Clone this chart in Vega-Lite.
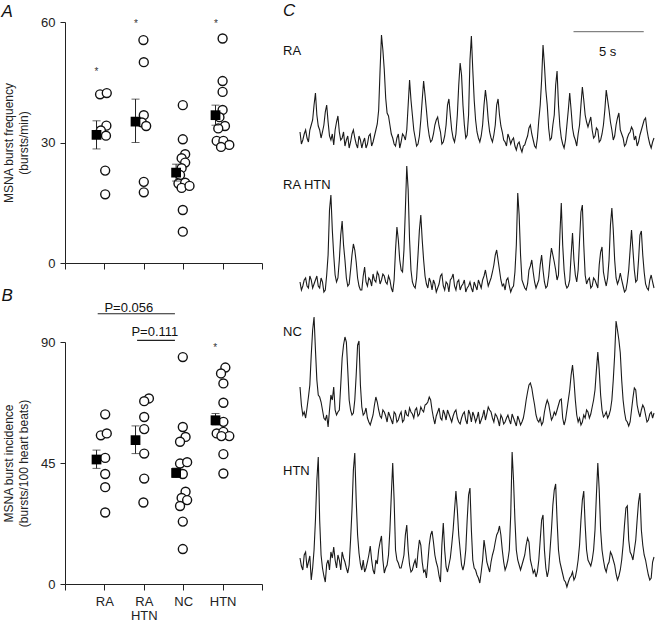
{
  "$schema": "https://vega.github.io/schema/vega-lite/v6.json",
  "padding": {"left": 1, "top": 1, "right": 0, "bottom": 0},
  "background": "white",
  "config": {
    "view": {"stroke": null},
    "font": "Liberation Sans",
    "axis": {"grid": false, "domainColor": "#222", "tickColor": "#222", "labelColor": "#222", "titleColor": "#222", "labelFont": "Liberation Sans", "titleFont": "Liberation Sans", "labelFontSize": 13, "titleFontSize": 12, "titleFontWeight": "normal", "tickSize": 5, "labelPadding": 4, "domainWidth": 1, "tickWidth": 1}
  },
  "datasets": {
    "indA": [
      {"group": "RA", "pos": 0.89, "v": 42.0}, {"group": "RA", "pos": 1.06, "v": 42.3}, {"group": "RA", "pos": 1.05, "v": 34.2}, {"group": "RA", "pos": 0.91, "v": 33.0}, {"group": "RA", "pos": 1.04, "v": 31.7}, {"group": "RA", "pos": 1.02, "v": 23.0}, {"group": "RA", "pos": 1.02, "v": 17.1},
      {"group": "RA HTN", "pos": 1.99, "v": 55.5}, {"group": "RA HTN", "pos": 2.0, "v": 50.0}, {"group": "RA HTN", "pos": 2.0, "v": 36.8}, {"group": "RA HTN", "pos": 1.95, "v": 35.0}, {"group": "RA HTN", "pos": 2.06, "v": 34.1}, {"group": "RA HTN", "pos": 2.0, "v": 20.2}, {"group": "RA HTN", "pos": 2.0, "v": 17.6},
      {"group": "NC", "pos": 2.99, "v": 39.3}, {"group": "NC", "pos": 2.99, "v": 30.8}, {"group": "NC", "pos": 3.05, "v": 27.1}, {"group": "NC", "pos": 2.96, "v": 26.1}, {"group": "NC", "pos": 3.05, "v": 25.0}, {"group": "NC", "pos": 2.96, "v": 23.6}, {"group": "NC", "pos": 2.92, "v": 21.9}, {"group": "NC", "pos": 2.88, "v": 19.8}, {"group": "NC", "pos": 3.05, "v": 20.0}, {"group": "NC", "pos": 2.96, "v": 18.7}, {"group": "NC", "pos": 3.16, "v": 19.2}, {"group": "NC", "pos": 2.99, "v": 13.2}, {"group": "NC", "pos": 2.99, "v": 7.8},
      {"group": "HTN", "pos": 4.0, "v": 55.9}, {"group": "HTN", "pos": 4.0, "v": 45.3}, {"group": "HTN", "pos": 4.0, "v": 42.6}, {"group": "HTN", "pos": 4.0, "v": 38.1}, {"group": "HTN", "pos": 3.92, "v": 36.3}, {"group": "HTN", "pos": 4.06, "v": 34.1}, {"group": "HTN", "pos": 3.89, "v": 33.5}, {"group": "HTN", "pos": 3.85, "v": 30.4}, {"group": "HTN", "pos": 4.02, "v": 30.4}, {"group": "HTN", "pos": 4.17, "v": 29.4}, {"group": "HTN", "pos": 3.96, "v": 28.9}
    ],
    "meanA": [
      {"group": "RA", "pos": 0.8, "mean": 31.9, "lo": 28.4, "hi": 35.4},
      {"group": "RA HTN", "pos": 1.79, "mean": 35.2, "lo": 30.0, "hi": 40.8},
      {"group": "NC", "pos": 2.82, "mean": 22.5, "lo": 20.4, "hi": 24.6},
      {"group": "HTN", "pos": 3.82, "mean": 36.8, "lo": 34.3, "hi": 39.3}
    ],
    "starA": [
      {"group": "RA", "pos": 0.8, "v": 48.0},
      {"group": "RA HTN", "pos": 1.8, "v": 60.0},
      {"group": "HTN", "pos": 3.83, "v": 60.0}
    ],
    "indB": [
      {"group": "RA", "pos": 1.02, "v": 63.1}, {"group": "RA", "pos": 0.91, "v": 55.3}, {"group": "RA", "pos": 1.06, "v": 56.0}, {"group": "RA", "pos": 1.02, "v": 46.9}, {"group": "RA", "pos": 1.02, "v": 40.9}, {"group": "RA", "pos": 1.02, "v": 36.0}, {"group": "RA", "pos": 1.02, "v": 26.6},
      {"group": "RA HTN", "pos": 2.13, "v": 69.0}, {"group": "RA HTN", "pos": 2.01, "v": 68.0}, {"group": "RA HTN", "pos": 2.01, "v": 62.1}, {"group": "RA HTN", "pos": 2.01, "v": 57.6}, {"group": "RA HTN", "pos": 2.01, "v": 48.5}, {"group": "RA HTN", "pos": 2.01, "v": 39.2}, {"group": "RA HTN", "pos": 1.99, "v": 30.3},
      {"group": "NC", "pos": 2.99, "v": 84.4}, {"group": "NC", "pos": 2.99, "v": 58.4}, {"group": "NC", "pos": 3.06, "v": 54.7}, {"group": "NC", "pos": 2.92, "v": 52.9}, {"group": "NC", "pos": 2.92, "v": 44.8}, {"group": "NC", "pos": 3.1, "v": 45.3}, {"group": "NC", "pos": 2.99, "v": 40.9}, {"group": "NC", "pos": 3.06, "v": 34.3}, {"group": "NC", "pos": 2.96, "v": 32.0}, {"group": "NC", "pos": 3.1, "v": 31.2}, {"group": "NC", "pos": 2.92, "v": 29.0}, {"group": "NC", "pos": 2.99, "v": 23.2}, {"group": "NC", "pos": 2.99, "v": 13.0},
      {"group": "HTN", "pos": 4.07, "v": 80.5}, {"group": "HTN", "pos": 3.96, "v": 78.3}, {"group": "HTN", "pos": 4.02, "v": 74.6}, {"group": "HTN", "pos": 4.02, "v": 67.4}, {"group": "HTN", "pos": 4.02, "v": 60.3}, {"group": "HTN", "pos": 3.85, "v": 56.0}, {"group": "HTN", "pos": 4.02, "v": 56.6}, {"group": "HTN", "pos": 4.17, "v": 55.0}, {"group": "HTN", "pos": 3.97, "v": 55.0}, {"group": "HTN", "pos": 4.02, "v": 48.3}, {"group": "HTN", "pos": 4.02, "v": 41.1}
    ],
    "meanB": [
      {"group": "RA", "pos": 0.8, "mean": 46.3, "lo": 43.0, "hi": 49.8},
      {"group": "RA HTN", "pos": 1.79, "mean": 53.5, "lo": 48.5, "hi": 58.8},
      {"group": "NC", "pos": 2.82, "mean": 41.3, "lo": 39.6, "hi": 43.1},
      {"group": "HTN", "pos": 3.82, "mean": 60.9, "lo": 59.1, "hi": 63.4}
    ],
    "tr": [
      {"t":0.0,"a":28,"b":18,"c":53,"d":32},{"t":0.1,"a":16,"b":10,"c":35,"d":24},{"t":0.2,"a":20,"b":14,"c":25,"d":20},{"t":0.3,"a":26,"b":20,"c":28,"d":35},{"t":0.4,"a":30,"b":22,"c":22,"d":38},
      {"t":0.5,"a":22,"b":14,"c":32,"d":22},{"t":0.6,"a":18,"b":12,"c":43,"d":28},{"t":0.7,"a":30,"b":24,"c":55,"d":34},{"t":0.8,"a":35,"b":20,"c":85,"d":10},{"t":0.9,"a":40,"b":12,"c":110,"d":22},
      {"t":1.0,"a":55,"b":16,"c":123,"d":40},{"t":1.1,"a":67,"b":20,"c":90,"d":70},{"t":1.2,"a":45,"b":24,"c":60,"d":110},{"t":1.3,"a":34,"b":14,"c":45,"d":133},{"t":1.4,"a":30,"b":12,"c":43,"d":70},
      {"t":1.5,"a":22,"b":22,"c":38,"d":35},{"t":1.6,"a":28,"b":18,"c":30,"d":22},{"t":1.7,"a":35,"b":8,"c":22,"d":14},{"t":1.8,"a":48,"b":10,"c":20,"d":8},{"t":1.9,"a":55,"b":25,"c":25,"d":26},
      {"t":2.0,"a":38,"b":45,"c":13,"d":30},{"t":2.1,"a":24,"b":90,"c":30,"d":20},{"t":2.2,"a":20,"b":105,"c":45,"d":38},{"t":2.3,"a":26,"b":70,"c":40,"d":32},{"t":2.4,"a":15,"b":45,"c":53,"d":43},
      {"t":2.5,"a":30,"b":25,"c":30,"d":30},{"t":2.6,"a":38,"b":18,"c":25,"d":22},{"t":2.7,"a":44,"b":22,"c":28,"d":35},{"t":2.8,"a":28,"b":40,"c":30,"d":30},{"t":2.9,"a":20,"b":65,"c":55,"d":20},
      {"t":3.0,"a":22,"b":79,"c":82,"d":38},{"t":3.1,"a":28,"b":55,"c":95,"d":32},{"t":3.2,"a":14,"b":40,"c":103,"d":28},{"t":3.3,"a":20,"b":22,"c":98,"d":22},{"t":3.4,"a":24,"b":14,"c":70,"d":17},
      {"t":3.5,"a":12,"b":16,"c":40,"d":25},{"t":3.6,"a":18,"b":30,"c":30,"d":50},{"t":3.7,"a":26,"b":45,"c":25,"d":80},{"t":3.8,"a":30,"b":56,"c":27,"d":120},{"t":3.9,"a":22,"b":50,"c":40,"d":137},
      {"t":4.0,"a":16,"b":38,"c":65,"d":90},{"t":4.1,"a":12,"b":22,"c":95,"d":55},{"t":4.2,"a":24,"b":14,"c":99,"d":37},{"t":4.3,"a":20,"b":10,"c":55,"d":26},{"t":4.4,"a":12,"b":10,"c":33,"d":20},
      {"t":4.5,"a":18,"b":24,"c":25,"d":30},{"t":4.6,"a":22,"b":33,"c":27,"d":18},{"t":4.7,"a":12,"b":18,"c":32,"d":22},{"t":4.8,"a":16,"b":14,"c":22,"d":28},{"t":4.9,"a":24,"b":22,"c":18,"d":35},
      {"t":5.0,"a":26,"b":20,"c":15,"d":44},{"t":5.1,"a":14,"b":14,"c":20,"d":30},{"t":5.2,"a":18,"b":26,"c":25,"d":20},{"t":5.3,"a":24,"b":20,"c":35,"d":16},{"t":5.4,"a":30,"b":18,"c":43,"d":30},
      {"t":5.5,"a":36,"b":28,"c":38,"d":26},{"t":5.6,"a":50,"b":25,"c":30,"d":40},{"t":5.7,"a":90,"b":16,"c":24,"d":48},{"t":5.8,"a":125,"b":20,"c":22,"d":54},{"t":5.9,"a":110,"b":26,"c":30,"d":30},
      {"t":6.0,"a":90,"b":24,"c":28,"d":17},{"t":6.1,"a":62,"b":18,"c":24,"d":22},{"t":6.2,"a":47,"b":16,"c":18,"d":25},{"t":6.3,"a":44,"b":24,"c":28,"d":35},{"t":6.4,"a":35,"b":20,"c":24,"d":60},
      {"t":6.5,"a":26,"b":12,"c":20,"d":95},{"t":6.6,"a":22,"b":8,"c":16,"d":127},{"t":6.7,"a":16,"b":20,"c":28,"d":90},{"t":6.8,"a":14,"b":50,"c":26,"d":40},{"t":6.9,"a":22,"b":73,"c":18,"d":30},
      {"t":7.0,"a":26,"b":60,"c":20,"d":27},{"t":7.1,"a":12,"b":40,"c":25,"d":22},{"t":7.2,"a":18,"b":30,"c":28,"d":22},{"t":7.3,"a":26,"b":28,"c":18,"d":28},{"t":7.4,"a":24,"b":50,"c":20,"d":35},
      {"t":7.5,"a":20,"b":90,"c":30,"d":55},{"t":7.6,"a":30,"b":134,"c":25,"d":65},{"t":7.7,"a":55,"b":110,"c":24,"d":40},{"t":7.8,"a":80,"b":60,"c":32,"d":25},{"t":7.9,"a":60,"b":30,"c":28,"d":18},
      {"t":8.0,"a":45,"b":18,"c":26,"d":20},{"t":8.1,"a":30,"b":14,"c":22,"d":26},{"t":8.2,"a":22,"b":12,"c":30,"d":30},{"t":8.3,"a":14,"b":22,"c":32,"d":22},{"t":8.4,"a":16,"b":45,"c":24,"d":38},
      {"t":8.5,"a":24,"b":70,"c":26,"d":50},{"t":8.6,"a":40,"b":85,"c":33,"d":45},{"t":8.7,"a":60,"b":60,"c":30,"d":28},{"t":8.8,"a":79,"b":40,"c":28,"d":18},{"t":8.9,"a":65,"b":24,"c":35,"d":20},
      {"t":9.0,"a":50,"b":16,"c":36,"d":12},{"t":9.1,"a":34,"b":12,"c":38,"d":28},{"t":9.2,"a":24,"b":22,"c":43,"d":45},{"t":9.3,"a":18,"b":18,"c":40,"d":55},{"t":9.4,"a":20,"b":10,"c":30,"d":59},
      {"t":9.5,"a":26,"b":20,"c":22,"d":48},{"t":9.6,"a":35,"b":16,"c":16,"d":35},{"t":9.7,"a":40,"b":8,"c":24,"d":28},{"t":9.8,"a":43,"b":12,"c":28,"d":23},{"t":9.9,"a":34,"b":16,"c":32,"d":14},
      {"t":10.0,"a":28,"b":24,"c":22,"d":8},{"t":10.1,"a":16,"b":26,"c":20,"d":45},{"t":10.2,"a":18,"b":14,"c":30,"d":67},{"t":10.3,"a":24,"b":10,"c":26,"d":40},{"t":10.4,"a":35,"b":18,"c":20,"d":23},
      {"t":10.5,"a":55,"b":16,"c":30,"d":18},{"t":10.6,"a":61,"b":8,"c":26,"d":25},{"t":10.7,"a":45,"b":20,"c":22,"d":32},{"t":10.8,"a":30,"b":22,"c":18,"d":45},{"t":10.9,"a":22,"b":26,"c":24,"d":60},
      {"t":11.0,"a":18,"b":14,"c":28,"d":80},{"t":11.1,"a":26,"b":10,"c":30,"d":99},{"t":11.2,"a":45,"b":18,"c":22,"d":80},{"t":11.3,"a":75,"b":20,"c":18,"d":55},{"t":11.4,"a":97,"b":10,"c":16,"d":40},
      {"t":11.5,"a":85,"b":14,"c":22,"d":25},{"t":11.6,"a":55,"b":16,"c":26,"d":20},{"t":11.7,"a":35,"b":20,"c":28,"d":26},{"t":11.8,"a":22,"b":8,"c":20,"d":40},{"t":11.9,"a":25,"b":12,"c":16,"d":70},
      {"t":12.0,"a":45,"b":14,"c":30,"d":95},{"t":12.1,"a":100,"b":18,"c":26,"d":102},{"t":12.2,"a":124,"b":12,"c":18,"d":60},{"t":12.3,"a":90,"b":8,"c":28,"d":30},{"t":12.4,"a":60,"b":18,"c":24,"d":22},
      {"t":12.5,"a":40,"b":14,"c":18,"d":20},{"t":12.6,"a":28,"b":10,"c":22,"d":15},{"t":12.7,"a":22,"b":20,"c":28,"d":12},{"t":12.8,"a":18,"b":16,"c":16,"d":7},{"t":12.9,"a":24,"b":12,"c":20,"d":18},
      {"t":13.0,"a":35,"b":20,"c":24,"d":30},{"t":13.1,"a":55,"b":24,"c":30,"d":50},{"t":13.2,"a":70,"b":30,"c":20,"d":40},{"t":13.3,"a":58,"b":22,"c":26,"d":28},{"t":13.4,"a":40,"b":14,"c":33,"d":23},
      {"t":13.5,"a":28,"b":18,"c":30,"d":18},{"t":13.6,"a":22,"b":22,"c":28,"d":28},{"t":13.7,"a":18,"b":28,"c":22,"d":35},{"t":13.8,"a":25,"b":35,"c":18,"d":40},{"t":13.9,"a":35,"b":45,"c":26,"d":48},
      {"t":14.0,"a":55,"b":50,"c":24,"d":55},{"t":14.1,"a":61,"b":40,"c":20,"d":58},{"t":14.2,"a":45,"b":30,"c":14,"d":64},{"t":14.3,"a":34,"b":20,"c":25,"d":55},{"t":14.4,"a":28,"b":14,"c":22,"d":40},
      {"t":14.5,"a":20,"b":16,"c":16,"d":28},{"t":14.6,"a":18,"b":10,"c":18,"d":20},{"t":14.7,"a":14,"b":20,"c":22,"d":24},{"t":14.8,"a":26,"b":22,"c":25,"d":30},{"t":14.9,"a":22,"b":14,"c":20,"d":40},
      {"t":15.0,"a":16,"b":8,"c":16,"d":75},{"t":15.1,"a":20,"b":12,"c":26,"d":138},{"t":15.2,"a":22,"b":14,"c":22,"d":110},{"t":15.3,"a":14,"b":28,"c":18,"d":70},{"t":15.4,"a":10,"b":55,"c":14,"d":40},
      {"t":15.5,"a":16,"b":107,"c":24,"d":30},{"t":15.6,"a":18,"b":85,"c":20,"d":25},{"t":15.7,"a":12,"b":45,"c":15,"d":20},{"t":15.8,"a":8,"b":20,"c":18,"d":25},{"t":15.9,"a":14,"b":16,"c":22,"d":30},
      {"t":16.0,"a":15,"b":12,"c":30,"d":35},{"t":16.1,"a":20,"b":10,"c":40,"d":45},{"t":16.2,"a":24,"b":16,"c":48,"d":52},{"t":16.3,"a":32,"b":30,"c":55,"d":48},{"t":16.4,"a":35,"b":34,"c":57,"d":30},
      {"t":16.5,"a":26,"b":40,"c":52,"d":24},{"t":16.6,"a":20,"b":28,"c":43,"d":17},{"t":16.7,"a":14,"b":18,"c":35,"d":20},{"t":16.8,"a":12,"b":12,"c":25,"d":13},{"t":16.9,"a":22,"b":16,"c":20,"d":18},
      {"t":17.0,"a":40,"b":20,"c":18,"d":30},{"t":17.1,"a":55,"b":35,"c":22,"d":50},{"t":17.2,"a":80,"b":45,"c":15,"d":70},{"t":17.3,"a":115,"b":30,"c":18,"d":75},{"t":17.4,"a":95,"b":18,"c":28,"d":40},
      {"t":17.5,"a":70,"b":12,"c":35,"d":22},{"t":17.6,"a":55,"b":14,"c":40,"d":13},{"t":17.7,"a":32,"b":24,"c":36,"d":20},{"t":17.8,"a":20,"b":40,"c":28,"d":40},{"t":17.9,"a":22,"b":52,"c":20,"d":60},
      {"t":18.0,"a":35,"b":45,"c":23,"d":85},{"t":18.1,"a":45,"b":38,"c":28,"d":100},{"t":18.2,"a":75,"b":30,"c":25,"d":106},{"t":18.3,"a":89,"b":20,"c":30,"d":70},{"t":18.4,"a":55,"b":25,"c":35,"d":40},
      {"t":18.5,"a":34,"b":65,"c":40,"d":28},{"t":18.6,"a":22,"b":97,"c":41,"d":22},{"t":18.7,"a":16,"b":55,"c":22,"d":16},{"t":18.8,"a":12,"b":30,"c":15,"d":10},{"t":18.9,"a":20,"b":16,"c":20,"d":8},
      {"t":19.0,"a":35,"b":12,"c":30,"d":3},{"t":19.1,"a":50,"b":14,"c":40,"d":8},{"t":19.2,"a":67,"b":20,"c":50,"d":12},{"t":19.3,"a":50,"b":45,"c":65,"d":14},{"t":19.4,"a":32,"b":67,"c":75,"d":18},
      {"t":19.5,"a":24,"b":40,"c":60,"d":10},{"t":19.6,"a":20,"b":25,"c":40,"d":13},{"t":19.7,"a":14,"b":18,"c":25,"d":20},{"t":19.8,"a":26,"b":30,"c":18,"d":30},{"t":19.9,"a":35,"b":60,"c":22,"d":45},
      {"t":20.0,"a":55,"b":88,"c":15,"d":70},{"t":20.1,"a":73,"b":95,"c":18,"d":90},{"t":20.2,"a":60,"b":55,"c":25,"d":99},{"t":20.3,"a":45,"b":25,"c":22,"d":65},{"t":20.4,"a":38,"b":16,"c":30,"d":40},
      {"t":20.5,"a":33,"b":20,"c":28,"d":30},{"t":20.6,"a":38,"b":22,"c":22,"d":27},{"t":20.7,"a":43,"b":12,"c":26,"d":24},{"t":20.8,"a":30,"b":14,"c":33,"d":30},{"t":20.9,"a":22,"b":22,"c":40,"d":40},
      {"t":21.0,"a":24,"b":20,"c":50,"d":60},{"t":21.1,"a":32,"b":16,"c":70,"d":95},{"t":21.2,"a":30,"b":12,"c":88,"d":127},{"t":21.3,"a":18,"b":35,"c":70,"d":100},{"t":21.4,"a":20,"b":48,"c":45,"d":60},
      {"t":21.5,"a":26,"b":53,"c":30,"d":40},{"t":21.6,"a":35,"b":28,"c":23,"d":30},{"t":21.7,"a":50,"b":20,"c":25,"d":22},{"t":21.8,"a":70,"b":14,"c":28,"d":18},{"t":21.9,"a":60,"b":22,"c":22,"d":25},
      {"t":22.0,"a":50,"b":40,"c":25,"d":28},{"t":22.1,"a":38,"b":75,"c":30,"d":38},{"t":22.2,"a":30,"b":92,"c":40,"d":35},{"t":22.3,"a":20,"b":70,"c":60,"d":30},{"t":22.4,"a":24,"b":40,"c":85,"d":25},
      {"t":22.5,"a":35,"b":22,"c":119,"d":16},{"t":22.6,"a":42,"b":16,"c":110,"d":10},{"t":22.7,"a":47,"b":20,"c":100,"d":14},{"t":22.8,"a":30,"b":27,"c":87,"d":20},{"t":22.9,"a":26,"b":20,"c":60,"d":30},
      {"t":23.0,"a":22,"b":14,"c":40,"d":45},{"t":23.1,"a":14,"b":8,"c":28,"d":65},{"t":23.2,"a":16,"b":10,"c":20,"d":82},{"t":23.3,"a":22,"b":18,"c":18,"d":84},{"t":23.4,"a":26,"b":30,"c":14,"d":50},
      {"t":23.5,"a":28,"b":50,"c":18,"d":38},{"t":23.6,"a":33,"b":70,"c":30,"d":35},{"t":23.7,"a":30,"b":50,"c":42,"d":30},{"t":23.8,"a":20,"b":30,"c":52,"d":40},{"t":23.9,"a":24,"b":18,"c":50,"d":50},
      {"t":24.0,"a":14,"b":20,"c":35,"d":70},{"t":24.1,"a":18,"b":40,"c":28,"d":88},{"t":24.2,"a":25,"b":65,"c":23,"d":97},{"t":24.3,"a":30,"b":69,"c":30,"d":60},{"t":24.4,"a":35,"b":45,"c":35,"d":45},
      {"t":24.5,"a":40,"b":28,"c":32,"d":35},{"t":24.6,"a":42,"b":16,"c":25,"d":30},{"t":24.7,"a":30,"b":12,"c":18,"d":22},{"t":24.8,"a":22,"b":10,"c":20,"d":15},{"t":24.9,"a":16,"b":20,"c":26,"d":10},
      {"t":25.0,"a":12,"b":25,"c":28,"d":12},{"t":25.1,"a":18,"b":18,"c":22,"d":28},{"t":25.2,"a":22,"b":12,"c":27,"d":33}
    ]
  },
  "spacing": 20,
  "hconcat": [
    {
      "bounds": "flush",
      "spacing": 79,
      "vconcat": [
        {
          "width": 197,
          "height": 241,
          "encoding": {
            "x": {"type": "quantitative", "scale": {"domain": [0, 5], "nice": false, "zero": false},
                  "axis": {"values": [0, 1, 2, 3, 4, 5], "labels": false, "title": null, "tickSize": 6}}
          },
          "layer": [
            {
              "data": {"name": "indA"},
              "mark": {"type": "point", "shape": "circle", "filled": true, "fill": "white", "stroke": "#111", "strokeWidth": 1.4, "size": 80, "opacity": 1},
              "encoding": {
                "x": {"field": "pos", "type": "quantitative"},
                "y": {"field": "v", "type": "quantitative", "scale": {"domain": [0, 60], "nice": false},
                      "axis": {"values": [0, 30, 60], "title": ["MSNA burst frequency", "(bursts/min)"], "titleLineHeight": 15, "titleX": -50, "titleY": 120.5, "labelPadding": 5}}
              }
            },
            {
              "data": {"name": "meanA"},
              "mark": {"type": "rule", "color": "#222", "strokeWidth": 1},
              "encoding": {"x": {"field": "pos", "type": "quantitative"}, "y": {"field": "lo", "type": "quantitative"}, "y2": {"field": "hi"}}
            },
            {
              "data": {"name": "meanA"},
              "mark": {"type": "tick", "orient": "horizontal", "size": 8, "thickness": 1, "color": "#222"},
              "encoding": {"x": {"field": "pos", "type": "quantitative"}, "y": {"field": "lo", "type": "quantitative"}}
            },
            {
              "data": {"name": "meanA"},
              "mark": {"type": "tick", "orient": "horizontal", "size": 8, "thickness": 1, "color": "#222"},
              "encoding": {"x": {"field": "pos", "type": "quantitative"}, "y": {"field": "hi", "type": "quantitative"}}
            },
            {
              "data": {"name": "meanA"},
              "mark": {"type": "point", "shape": "square", "filled": true, "color": "black", "size": 95, "opacity": 1},
              "encoding": {"x": {"field": "pos", "type": "quantitative"}, "y": {"field": "mean", "type": "quantitative"}}
            },
            {
              "data": {"name": "starA"},
              "mark": {"type": "text", "text": "*", "fontSize": 10, "color": "#333", "baseline": "middle", "dy": 2},
              "encoding": {"x": {"field": "pos", "type": "quantitative"}, "y": {"field": "v", "type": "quantitative"}}
            },
            {
              "data": {"values": [{"letter": "A", "pos": -1.61, "v": 62.6}]},
              "mark": {"type": "text", "fontSize": 17, "fontStyle": "italic", "align": "left", "baseline": "middle", "color": "#111"},
              "encoding": {"x": {"field": "pos", "type": "quantitative"}, "y": {"field": "v", "type": "quantitative"}, "text": {"field": "letter"}}
            }
          ]
        },
        {
          "width": 197,
          "height": 242,
          "encoding": {
            "x": {"type": "quantitative", "scale": {"domain": [0, 5], "nice": false, "zero": false},
                  "axis": {"values": [0, 1, 2, 3, 4, 5], "title": null, "tickSize": 6, "labelPadding": 5, "labelLineHeight": 14,
                           "labelExpr": "datum.value == 1 ? 'RA' : datum.value == 2 ? ['RA', 'HTN'] : datum.value == 3 ? 'NC' : datum.value == 4 ? 'HTN' : ''"}}
          },
          "layer": [
            {
              "data": {"name": "indB"},
              "mark": {"type": "point", "shape": "circle", "filled": true, "fill": "white", "stroke": "#111", "strokeWidth": 1.4, "size": 80, "opacity": 1},
              "encoding": {
                "x": {"field": "pos", "type": "quantitative"},
                "y": {"field": "v", "type": "quantitative", "scale": {"domain": [0, 90], "nice": false},
                      "axis": {"values": [0, 45, 90], "title": ["MSNA burst incidence", "(bursts/100 heart beats)"], "titleLineHeight": 15, "titleX": -50, "titleY": 121, "labelPadding": 5}}
              }
            },
            {
              "data": {"name": "meanB"},
              "mark": {"type": "rule", "color": "#222", "strokeWidth": 1},
              "encoding": {"x": {"field": "pos", "type": "quantitative"}, "y": {"field": "lo", "type": "quantitative"}, "y2": {"field": "hi"}}
            },
            {
              "data": {"name": "meanB"},
              "mark": {"type": "tick", "orient": "horizontal", "size": 8, "thickness": 1, "color": "#222"},
              "encoding": {"x": {"field": "pos", "type": "quantitative"}, "y": {"field": "lo", "type": "quantitative"}}
            },
            {
              "data": {"name": "meanB"},
              "mark": {"type": "tick", "orient": "horizontal", "size": 8, "thickness": 1, "color": "#222"},
              "encoding": {"x": {"field": "pos", "type": "quantitative"}, "y": {"field": "hi", "type": "quantitative"}}
            },
            {
              "data": {"name": "meanB"},
              "mark": {"type": "point", "shape": "square", "filled": true, "color": "black", "size": 95, "opacity": 1},
              "encoding": {"x": {"field": "pos", "type": "quantitative"}, "y": {"field": "mean", "type": "quantitative"}}
            },
            {
              "data": {"values": [{"pos": 3.81, "v": 88.4}]},
              "mark": {"type": "text", "text": "*", "fontSize": 10, "color": "#333", "baseline": "middle", "dy": 2},
              "encoding": {"x": {"field": "pos", "type": "quantitative"}, "y": {"field": "v", "type": "quantitative"}}
            },
            {
              "data": {"values": [{"from": 0.83, "to": 2.79, "v": 100.5}, {"from": 1.83, "to": 2.79, "v": 90.6}]},
              "mark": {"type": "rule", "color": "#222", "strokeWidth": 1.2},
              "encoding": {"x": {"field": "from", "type": "quantitative"}, "x2": {"field": "to"}, "y": {"field": "v", "type": "quantitative"}}
            },
            {
              "data": {"values": [{"pos": 1.62, "v": 100.5, "label": "P=0.056"}]},
              "mark": {"type": "text", "fontSize": 13, "baseline": "alphabetic", "dy": -2, "color": "#111"},
              "encoding": {"x": {"field": "pos", "type": "quantitative"}, "y": {"field": "v", "type": "quantitative"}, "text": {"field": "label"}}
            },
            {
              "data": {"values": [{"pos": 2.28, "v": 90.6, "label": "P=0.111"}]},
              "mark": {"type": "text", "fontSize": 13, "baseline": "alphabetic", "dy": -4, "color": "#111"},
              "encoding": {"x": {"field": "pos", "type": "quantitative"}, "y": {"field": "v", "type": "quantitative"}, "text": {"field": "label"}}
            },
            {
              "data": {"values": [{"letter": "B", "pos": -1.61, "v": 107.2}]},
              "mark": {"type": "text", "fontSize": 17, "fontStyle": "italic", "align": "left", "baseline": "middle", "color": "#111"},
              "encoding": {"x": {"field": "pos", "type": "quantitative"}, "y": {"field": "v", "type": "quantitative"}, "text": {"field": "letter"}}
            }
          ]
        }
      ]
    },
    {
      "bounds": "flush",
      "spacing": 0,
      "vconcat": [
        {
          "width": 354,
          "height": 138,
          "encoding": {"x": {"type": "quantitative", "scale": {"domain": [0, 25.2], "nice": false, "zero": false}, "axis": null}},
          "layer": [
            {
              "data": {"name": "tr"},
              "mark": {"type": "line", "color": "#1a1a1a", "strokeWidth": 1.1},
              "encoding": {"x": {"field": "t"}, "y": {"field": "a", "type": "quantitative", "scale": {"domain": [0, 138], "nice": false}, "axis": null}}
            },
            {
              "data": {"values": [{"from": 19.47, "to": 24.47, "v": 128.3}]},
              "mark": {"type": "rule", "color": "#666", "strokeWidth": 1},
              "encoding": {"x": {"field": "from"}, "x2": {"field": "to"}, "y": {"field": "v", "type": "quantitative"}}
            },
            {
              "data": {"values": [{"label": "5 s", "t": 21.9, "v": 108.3}]},
              "mark": {"type": "text", "fontSize": 13, "baseline": "middle", "align": "center", "color": "#111"},
              "encoding": {"x": {"field": "t"}, "y": {"field": "v", "type": "quantitative"}, "text": {"field": "label"}}
            },
            {
              "data": {"values": [{"label": "RA", "t": -1.21, "v": 109.3}]},
              "mark": {"type": "text", "fontSize": 13, "baseline": "middle", "align": "left", "color": "#111"},
              "encoding": {"x": {"field": "t"}, "y": {"field": "v", "type": "quantitative"}, "text": {"field": "label"}}
            },
            {
              "data": {"values": [{"letter": "C", "t": -1.21, "v": 149.5}]},
              "mark": {"type": "text", "fontSize": 17, "fontStyle": "italic", "align": "left", "baseline": "middle", "color": "#111"},
              "encoding": {"x": {"field": "t"}, "y": {"field": "v", "type": "quantitative"}, "text": {"field": "letter"}}
            }
          ]
        },
        {
          "width": 354,
          "height": 140,
          "encoding": {"x": {"type": "quantitative", "scale": {"domain": [0, 25.2], "nice": false, "zero": false}, "axis": null}},
          "layer": [
            {
              "data": {"name": "tr"},
              "mark": {"type": "line", "color": "#1a1a1a", "strokeWidth": 1.1},
              "encoding": {"x": {"field": "t"}, "y": {"field": "b", "type": "quantitative", "scale": {"domain": [0, 140], "nice": false}, "axis": null}}
            },
            {
              "data": {"values": [{"label": "RA HTN", "t": -1.21, "v": 115}]},
              "mark": {"type": "text", "fontSize": 13, "baseline": "middle", "align": "left", "color": "#111"},
              "encoding": {"x": {"field": "t"}, "y": {"field": "v", "type": "quantitative"}, "text": {"field": "label"}}
            }
          ]
        },
        {
          "width": 354,
          "height": 140,
          "encoding": {"x": {"type": "quantitative", "scale": {"domain": [0, 25.2], "nice": false, "zero": false}, "axis": null}},
          "layer": [
            {
              "data": {"name": "tr"},
              "mark": {"type": "line", "color": "#1a1a1a", "strokeWidth": 1.1},
              "encoding": {"x": {"field": "t"}, "y": {"field": "c", "type": "quantitative", "scale": {"domain": [0, 140], "nice": false}, "axis": null}}
            },
            {
              "data": {"values": [{"label": "NC", "t": -1.21, "v": 108.3}]},
              "mark": {"type": "text", "fontSize": 13, "baseline": "middle", "align": "left", "color": "#111"},
              "encoding": {"x": {"field": "t"}, "y": {"field": "v", "type": "quantitative"}, "text": {"field": "label"}}
            }
          ]
        },
        {
          "width": 354,
          "height": 150,
          "encoding": {"x": {"type": "quantitative", "scale": {"domain": [0, 25.2], "nice": false, "zero": false}, "axis": null}},
          "layer": [
            {
              "data": {"name": "tr"},
              "mark": {"type": "line", "color": "#1a1a1a", "strokeWidth": 1.1},
              "encoding": {"x": {"field": "t"}, "y": {"field": "d", "type": "quantitative", "scale": {"domain": [0, 150], "nice": false}, "axis": null}}
            },
            {
              "data": {"values": [{"label": "HTN", "t": -1.21, "v": 119.3}]},
              "mark": {"type": "text", "fontSize": 13, "baseline": "middle", "align": "left", "color": "#111"},
              "encoding": {"x": {"field": "t"}, "y": {"field": "v", "type": "quantitative"}, "text": {"field": "label"}}
            }
          ]
        }
      ]
    }
  ]
}
